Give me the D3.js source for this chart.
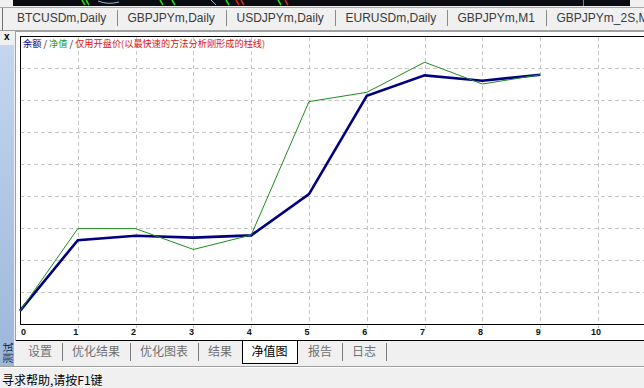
<!DOCTYPE html>
<html>
<head>
<meta charset="utf-8">
<script src="https://cdn.jsdelivr.net/npm/d3@7"></script>
<style>
  body { margin: 0; background: #f0f0f0; overflow: hidden; }
  svg { display: block; font-family: "Liberation Sans", Arial, sans-serif; }
  .cjk { font-family: "Noto Sans CJK SC", sans-serif; }
</style>
</head>
<body>
<svg id="viz" width="644" height="388"></svg>
<script>
// ==== Data ====
const trades  = [0, 1, 2, 3, 4, 5, 6, 7, 8, 9];
const balance = [9641, 9862, 9876, 9870, 9877, 10006, 10313, 10377, 10360, 10379];
const equity  = [9641, 9898, 9898, 9833, 9878, 10295, 10324, 10418, 10350, 10379];
const xTicks  = [0, 1, 2, 3, 4, 5, 6, 7, 8, 9, 10];
const yGrid   = [9700, 9800, 9900, 10000, 10100, 10200, 10300, 10400];
const topTabs = ["BTCUSDm,Daily", "GBPJPYm,Daily", "USDJPYm,Daily", "EURUSDm,Daily", "GBPJPYm,M1", "GBPJPYm_2S,M1"];
const bottomTabs = ["设置", "优化结果", "优化图表", "结果", "净值图", "报告", "日志"];
const activeTab = "净值图";
const legendParts = [
  { text: "余额", color: "#000080" },
  { text: " / ", color: "#202020" },
  { text: "净值", color: "#1a9a1a" },
  { text: " / ", color: "#202020" },
  { text: "仅用开盘价(以最快速的方法分析刚形成的柱线)", color: "#e01010" }
];

const svg = d3.select("#viz");

// ==== window chrome: strip of the chart above ====
svg.append("rect").attr("x", 13).attr("y", 0).attr("width", 617).attr("height", 6).attr("fill", "#0b0b12");
svg.append("line").attr("x1", 583.5).attr("x2", 583.5).attr("y1", 0).attr("y2", 6).attr("stroke", "#808080");
const bits = [[82, "#22dd22"], [86, "#22dd22"], [160, "#22dd22"], [172, "#22dd22"], [226, "#22dd22"], [236, "#e02020"], [241, "#e02020"], [278, "#22dd22"], [285, "#e02020"]];
svg.append("g").selectAll("line").data(bits).join("line")
  .attr("x1", d => d[0]).attr("x2", d => d[0] + 3).attr("y1", 0).attr("y2", 5)
  .attr("stroke", d => d[1]).attr("stroke-width", 1.5);
svg.append("path").attr("d", "M98,1 Q108,5 119,2 M211,0 L216,5").attr("fill", "none").attr("stroke", "#8fb8e0");

// top tab bar (the last tab is clipped by the window edge, as in the app)
svg.append("line").attr("x1", 0).attr("x2", 644).attr("y1", 7.5).attr("y2", 7.5).attr("stroke", "#a8a8a8");
svg.append("line").attr("x1", 2.5).attr("x2", 2.5).attr("y1", 8).attr("y2", 30).attr("stroke", "#707070");
const gTop = svg.append("g");
let tx = 17;
topTabs.forEach((t, i) => {
  const txt = gTop.append("text").attr("x", tx).attr("y", 22).attr("font-size", 12).attr("fill", "#3a3a3a").text(t);
  const w = txt.node().getComputedTextLength();
  const sx = Math.round(tx + w + 11) + 0.5;
  if (i < topTabs.length - 1)
    gTop.append("line").attr("x1", sx).attr("x2", sx).attr("y1", 10).attr("y2", 26).attr("stroke", "#8a8a8a");
  tx = sx + 10;
});
svg.append("line").attr("x1", 0).attr("x2", 644).attr("y1", 30.5).attr("y2", 30.5).attr("stroke", "#a0a0a0");

// close mark + left vertical panel
svg.append("text").attr("x", 4).attr("y", 40).attr("font-size", 10).attr("font-weight", "bold").attr("fill", "#000").text("x");
const grad = svg.append("defs").append("linearGradient").attr("id", "side").attr("x1", 0).attr("x2", 0).attr("y1", 0).attr("y2", 1);
grad.append("stop").attr("offset", 0).attr("stop-color", "#c3d6ed");
grad.append("stop").attr("offset", 1).attr("stop-color", "#9bb7da");
svg.append("rect").attr("x", 0).attr("y", 45).attr("width", 14).attr("height", 321).attr("fill", "url(#side)");
svg.append("text").attr("class", "cjk").attr("transform", "translate(11.5,353) rotate(-90)")
  .attr("text-anchor", "middle").attr("font-size", 10.5).attr("fill", "#1c2440").text("测试");

// ==== chart frame ====
svg.append("rect").attr("x", 15.5).attr("y", 31.5).attr("width", 640).attr("height", 309)
  .attr("fill", "#fff").attr("stroke", "#a0a0a0");

const x = d3.scaleLinear().domain([0, 10]).range([20, 598]);
const y = d3.scaleLinear().domain([9600, 10500]).range([324, 36]);

// grid
const gGrid = svg.append("g").attr("stroke", "#c6c6c6").attr("stroke-dasharray", "4,3").attr("shape-rendering", "crispEdges");
gGrid.selectAll(".h").data(yGrid).join("line").attr("class", "h")
  .attr("x1", 20).attr("x2", 644).attr("y1", d => Math.round(y(d)) + 0.5).attr("y2", d => Math.round(y(d)) + 0.5);
gGrid.selectAll(".v").data(xTicks.slice(1)).join("line").attr("class", "v")
  .attr("x1", d => Math.round(x(d)) + 0.5).attr("x2", d => Math.round(x(d)) + 0.5).attr("y1", 37).attr("y2", 328);

// plot border
svg.append("path").attr("d", "M644,36.5 H20.5 V324.5 H644")
  .attr("fill", "none").attr("stroke", "#000").attr("shape-rendering", "crispEdges");

// x axis labels
svg.append("g").selectAll("text").data(xTicks).join("text")
  .attr("x", d => d === 0 ? x(d) + 1 : x(d) - 2)
  .attr("y", 335)
  .attr("text-anchor", d => d === 0 ? "start" : "middle")
  .attr("font-size", 9).attr("font-weight", "bold").attr("fill", "#111")
  .text(d => d);

// legend
const leg = svg.append("text").attr("class", "cjk").attr("x", 23).attr("y", 47).attr("font-size", 9.2);
legendParts.forEach(p => leg.append("tspan").attr("fill", p.color).attr("xml:space", "preserve").text(p.text));

// ==== lines ====
const line = d3.line().x((d, i) => x(trades[i])).y(d => y(d));
svg.append("path").datum(balance).attr("d", line)
  .attr("fill", "none").attr("stroke", "#000080").attr("stroke-width", 2.6).attr("stroke-linejoin", "miter");
svg.append("path").datum(equity).attr("d", line)
  .attr("fill", "none").attr("stroke", "#1e8c1e").attr("stroke-width", 1);

// ==== bottom tab strip ====
svg.append("line").attr("x1", 16).attr("x2", 644).attr("y1", 340.5).attr("y2", 340.5).attr("stroke", "#000");
const gBot = svg.append("g").attr("class", "cjk");
let bx = 28;
bottomTabs.forEach((t, i) => {
  const active = t === activeTab;
  let box;
  if (active) box = gBot.append("rect").attr("y", 340.5).attr("height", 23).attr("fill", "#fff").attr("stroke", "#000");
  const txt = gBot.append("text").attr("x", bx).attr("y", 356).attr("font-size", 12)
    .attr("fill", active ? "#000" : "#707070").text(t);
  const w = txt.node().getComputedTextLength();
  if (active) {
    box.attr("x", Math.round(bx - 9.5) + 0.5).attr("width", Math.round(w + 19));
    txt.raise();
    bx = bx + w + 9.5 + 11;
  } else {
    const nextActive = bottomTabs[i + 1] === activeTab;
    if (nextActive) { bx = bx + w + 10 + 9.5; }
    else {
      const sx = Math.round(bx + w + 10) + 0.5;
      gBot.append("line").attr("x1", sx).attr("x2", sx).attr("y1", 343).attr("y2", 361).attr("stroke", "#7a7a7a");
      bx = sx + 9.5;
    }
  }
});

// status bar
svg.append("line").attr("x1", 0).attr("x2", 644).attr("y1", 366.5).attr("y2", 366.5).attr("stroke", "#a0a0a0");
svg.append("line").attr("x1", 0).attr("x2", 644).attr("y1", 367.5).attr("y2", 367.5).attr("stroke", "#ffffff");
svg.append("text").attr("class", "cjk").attr("x", 2).attr("y", 385).attr("font-size", 12).attr("fill", "#000")
  .text("寻求帮助,请按F1键");
</script>
</body>
</html>
